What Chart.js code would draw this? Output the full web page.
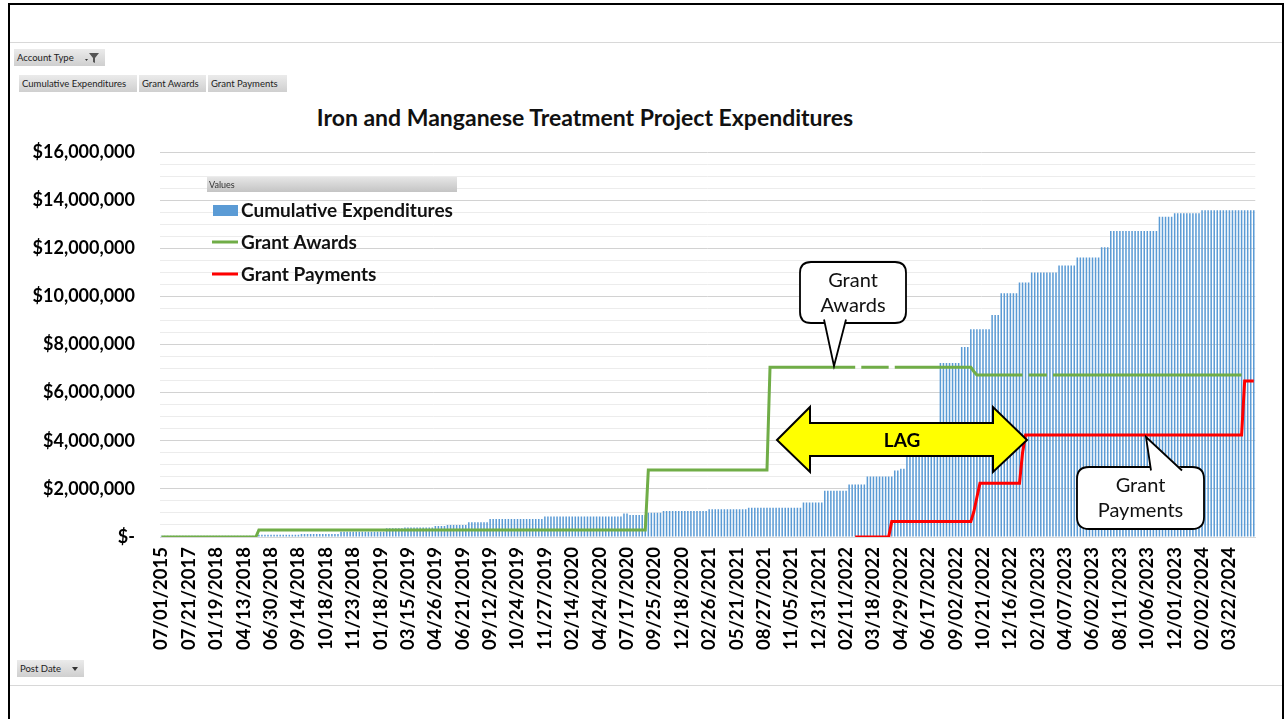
<!DOCTYPE html>
<html>
<head>
<meta charset="utf-8">
<title>Iron and Manganese Treatment Project Expenditures</title>
<script src="https://cdn.jsdelivr.net/npm/chart.js@4.4.1/dist/chart.umd.min.js"></script>
<style>
  html, body { margin: 0; padding: 0; background: #fff; }
  body { width: 1286px; height: 719px; position: relative; overflow: hidden; font-family: Lato, "Open Sans", sans-serif; }
  #frame { position: absolute; left: 8px; top: 3px; width: 1276px; height: 780px; border: 2px solid #000; box-sizing: border-box; }
  .rule { position: absolute; left: 10px; width: 1272px; height: 1px; background: #d8d8d8; }
  .btn { position: absolute; height: 17px; background: linear-gradient(#ebebeb, #cfcfcf); font-size: 9.5px; line-height: 17px; color: #222; padding-left: 3px; box-sizing: border-box; white-space: nowrap; }
  #title { position: absolute; left: 0; width: 1170px; top: 103px; text-align: center; font-weight: bold; font-size: 23px; color: #111; }
  #chart { position: absolute; left: 0; top: 0; }
</style>
</head>
<body>
<div id="frame"></div>
<div class="rule" style="top:42px"></div>
<div class="rule" style="top:685px"></div>

<div class="btn" style="left:14px; top:49px; width:91px;">Account Type
  <svg width="16" height="12" style="position:absolute; left:70px; top:3px" viewBox="0 0 16 12">
    <path d="M1 7 h3 l-1.5 2 z" fill="#333"/>
    <path d="M5 1 h10 l-4 5 v5 l-2 -1 v-4 z" fill="#555"/>
  </svg>
</div>
<div class="btn" style="left:19px; top:75px; width:118px;">Cumulative Expenditures</div>
<div class="btn" style="left:139px; top:75px; width:67px;">Grant Awards</div>
<div class="btn" style="left:208px; top:75px; width:79px;">Grant Payments</div>
<div class="btn" style="left:17px; top:660px; width:67px;">Post Date
  <svg width="8" height="6" style="position:absolute; left:54px; top:6px" viewBox="0 0 8 6"><path d="M1 1 h6 l-3 4 z" fill="#333"/></svg>
</div>

<div id="title">Iron and Manganese Treatment Project Expenditures</div>

<canvas id="chart" width="1286" height="719"></canvas>

<script>
// Etiquetas visibles del eje X (una cada 9 fechas de registro)
const tickLabels = [
  '07/01/2015', '07/21/2017', '01/19/2018', '04/13/2018', '06/30/2018', '09/14/2018', '10/18/2018',
  '11/23/2018', '01/18/2019', '03/15/2019', '04/26/2019', '06/21/2019', '09/12/2019', '10/24/2019',
  '11/27/2019', '02/14/2020', '04/24/2020', '07/17/2020', '09/25/2020', '12/18/2020', '02/26/2021',
  '05/21/2021', '08/27/2021', '11/05/2021', '12/31/2021', '02/11/2022', '03/18/2022', '04/29/2022',
  '06/17/2022', '09/02/2022', '10/21/2022', '12/16/2022', '02/10/2023', '04/07/2023', '06/02/2023',
  '08/11/2023', '10/06/2023', '12/01/2023', '02/02/2024', '03/22/2024'
];
const labelEvery = 9;
const postCount = 360;

// Gastos acumulados: primer registro de cada nivel y su valor
const expStart = [0, 32, 46, 59, 74, 80, 90, 94, 101, 108, 126, 152, 154, 160, 165, 180, 193, 211, 218, 226,
  232, 241, 243, 245, 251, 256, 263, 266, 273, 276, 282, 286, 295, 301, 309, 312, 328, 333, 342];
const expLevel = [55000, 90000, 120000, 220000, 360000, 390000, 460000, 500000, 610000, 750000,
  850000, 980000, 910000, 1010000, 1080000, 1150000, 1220000, 1430000, 1920000, 2180000,
  2510000, 2760000, 2840000, 3400000, 3550000, 7230000, 7900000, 8630000, 9230000, 10130000,
  10580000, 10990000, 11280000, 11620000, 12040000, 12720000, 13310000, 13450000, 13580000];

// Subvenciones otorgadas
const awardStart = [0, 32, 160, 200, 267, 268, 356];
const awardLevel = [0, 290000, 2780000, 7050000, 6880000, 6730000, null];
const awardGaps = [229, 240, 284, 292];

// Pagos de subvenciones
const payStart = [0, 228, 240, 267, 268, 269, 283, 284, 356];
const payLevel = [null, 0, 640000, 1050000, 1650000, 2230000, 3500000, 4240000, 6480000];

// Expande los niveles a un valor por fecha
function expandir(starts, levels, n) {
  const out = [];
  let k = 0;
  for (let i = 0; i < n; i++) {
    while (k + 1 < starts.length && starts[k + 1] <= i) k++;
    out.push(levels[k]);
  }
  return out;
}

const categories = [];
for (let i = 0; i < postCount; i++) {
  categories.push(i % labelEvery === 0 ? tickLabels[i / labelEvery] : '');
}
const expData = expandir(expStart, expLevel, postCount);
const awardData = expandir(awardStart, awardLevel, postCount);
awardGaps.forEach(i => { awardData[i] = null; });
const payData = expandir(payStart, payLevel, postCount);

function dinero(v) {
  if (v === 0) return '$-';
  return '$' + v.toLocaleString('en-US');
}

// Leyenda dibujada dentro del área del gráfico
const leyenda = {
  id: 'leyenda',
  afterDraw(chart) {
    const c = chart.ctx;
    c.save();
    const g = c.createLinearGradient(0, 177, 0, 192);
    g.addColorStop(0, '#e6e6e6');
    g.addColorStop(1, '#c4c4c4');
    c.fillStyle = g;
    c.fillRect(207, 177, 250, 15);
    c.fillStyle = '#333';
    c.font = '9px Lato, sans-serif';
    c.textBaseline = 'middle';
    c.fillText('Values', 209, 185);

    c.font = 'bold 19px Lato, sans-serif';
    const ds = chart.data.datasets;
    const ys = [210, 242, 274];
    ds.forEach((d, i) => {
      if (d.type === 'bar') {
        c.fillStyle = d.backgroundColor;
        c.fillRect(213, ys[i] - 5, 25, 11);
      } else {
        c.strokeStyle = d.borderColor;
        c.lineWidth = 3;
        c.beginPath();
        c.moveTo(212, ys[i]);
        c.lineTo(238, ys[i]);
        c.stroke();
      }
      c.fillStyle = '#111';
      c.fillText(d.label, 241, ys[i] + 1);
    });
    c.restore();
  }
};

// Globos de texto y flecha LAG
function globo(c, x, y, w, h, r, pL, tip, pR, lineas) {
  c.beginPath();
  c.moveTo(x + r, y);
  c.lineTo(x + w - r, y);
  c.quadraticCurveTo(x + w, y, x + w, y + r);
  c.lineTo(x + w, y + h - r);
  c.quadraticCurveTo(x + w, y + h, x + w - r, y + h);
  c.lineTo(x + r, y + h);
  c.quadraticCurveTo(x, y + h, x, y + h - r);
  c.lineTo(x, y + r);
  c.quadraticCurveTo(x, y, x + r, y);
  c.closePath();
  c.fillStyle = '#fff';
  c.fill();
  c.strokeStyle = '#000';
  c.lineWidth = 1.8;
  c.stroke();

  c.beginPath();
  c.moveTo(pL[0], pL[1]);
  c.lineTo(tip[0], tip[1]);
  c.lineTo(pR[0], pR[1]);
  c.closePath();
  c.fill();
  c.beginPath();
  c.moveTo(pL[0], pL[1] + (tip[1] > y ? -1.5 : 1.5));
  c.lineTo(tip[0], tip[1]);
  c.lineTo(pR[0], pR[1] + (tip[1] > y ? -1.5 : 1.5));
  c.stroke();

  c.fillStyle = '#111';
  c.font = '20px Lato, sans-serif';
  c.textAlign = 'center';
  c.textBaseline = 'middle';
  lineas.forEach((t, i) => c.fillText(t, x + w / 2, y + 19 + i * 25));
}

const anotaciones = {
  id: 'anotaciones',
  afterDraw(chart) {
    const c = chart.ctx;
    c.save();
    globo(c, 800, 262, 106, 61, 11, [824, 321], [834, 366], [846, 321], ['Grant', 'Awards']);
    globo(c, 1077, 467, 127, 62, 12, [1151, 469], [1146, 437], [1182, 469], ['Grant', 'Payments']);

    c.beginPath();
    c.moveTo(777, 440);
    c.lineTo(810, 407);
    c.lineTo(810, 423);
    c.lineTo(993, 423);
    c.lineTo(993, 407);
    c.lineTo(1027, 440);
    c.lineTo(993, 472);
    c.lineTo(993, 456);
    c.lineTo(810, 456);
    c.lineTo(810, 472);
    c.closePath();
    c.fillStyle = '#ffff00';
    c.fill();
    c.strokeStyle = '#000';
    c.lineWidth = 2;
    c.lineJoin = 'miter';
    c.stroke();
    c.fillStyle = '#000';
    c.font = 'bold 19px Lato, sans-serif';
    c.textAlign = 'center';
    c.textBaseline = 'middle';
    c.fillText('LAG', 902, 441);
    c.restore();
  }
};

const ctx = document.getElementById('chart').getContext('2d');
new Chart(ctx, {
  data: {
    labels: categories,
    datasets: [
      {
        type: 'bar',
        label: 'Cumulative Expenditures',
        data: expData,
        backgroundColor: '#5b9bd5',
        barPercentage: 0.5,
        categoryPercentage: 1.0,
        order: 3
      },
      {
        type: 'line',
        label: 'Grant Awards',
        data: awardData,
        borderColor: '#70ad47',
        borderWidth: 3,
        pointRadius: 0,
        tension: 0,
        spanGaps: false,
        order: 2
      },
      {
        type: 'line',
        label: 'Grant Payments',
        data: payData,
        borderColor: '#ff0000',
        borderWidth: 3,
        pointRadius: 0,
        tension: 0,
        spanGaps: false,
        order: 1
      }
    ]
  },
  options: {
    responsive: false,
    animation: false,
    layout: { padding: { left: 20, right: 24, top: 152, bottom: 32 } },
    plugins: { legend: { display: false }, tooltip: { enabled: false } },
    scales: {
      x: {
        offset: true,
        grid: { display: false, drawTicks: false },
        border: { display: true, color: '#d9d9d9' },
        ticks: {
          autoSkip: false,
          minRotation: 90,
          maxRotation: 90,
          padding: 10,
          color: '#000',
          font: { family: 'Lato', weight: 'bold', size: 18.5 }
        },
        afterFit: s => { s.height = 150; }
      },
      y: {
        min: 0,
        max: 16000000,
        border: { display: false },
        grid: {
          drawTicks: false,
          color: c => (c.tick && c.tick.value % 2000000 === 0) ? '#d2d2d2' : '#ececec'
        },
        ticks: {
          stepSize: 500000,
          autoSkip: false,
          padding: 25,
          color: '#000',
          font: { family: 'Lato', weight: 'bold', size: 18 },
          callback: v => (v % 2000000 === 0 ? dinero(v) : '')
        },
        afterFit: s => { s.width = 140; }
      }
    }
  },
  plugins: [leyenda, anotaciones]
});
</script>
</body>
</html>
